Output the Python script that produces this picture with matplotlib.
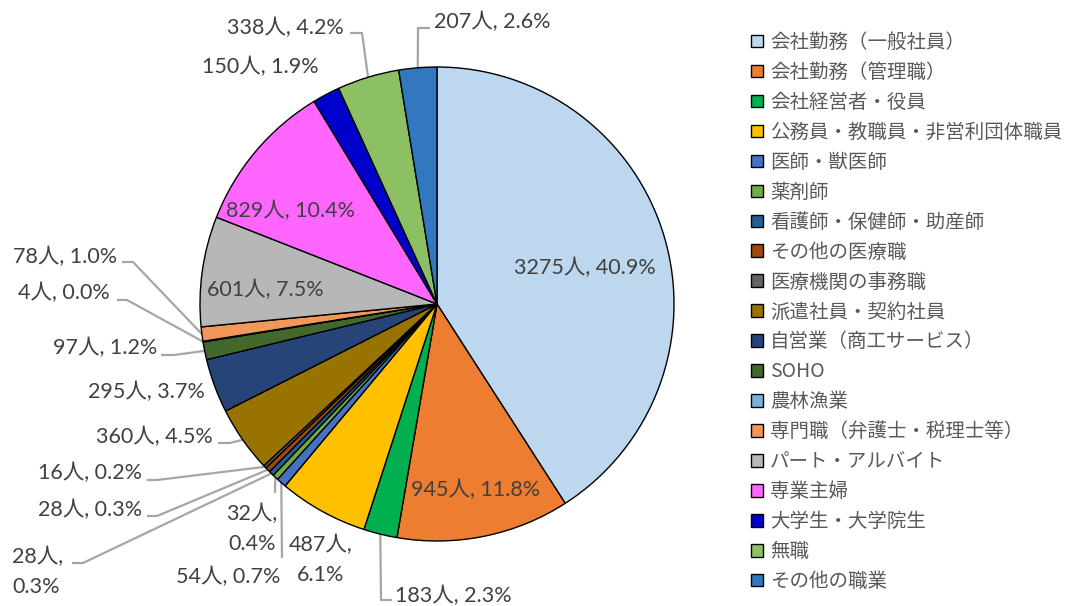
import matplotlib
matplotlib.use("Agg")
import matplotlib.pyplot as plt
import numpy as np

categories = ["会社勤務（一般社員）", "会社勤務（管理職）", "会社経営者・役員",
              "公務員・教職員・非営利団体職員", "医師・獣医師", "薬剤師",
              "看護師・保健師・助産師", "その他の医療職", "医療機関の事務職",
              "派遣社員・契約社員", "自営業（商工サービス）", "SOHO", "農林漁業",
              "専門職（弁護士・税理士等）", "パート・アルバイト", "専業主婦",
              "大学生・大学院生", "無職", "その他の職業"]
counts = [3275, 945, 183, 487, 54, 32, 28, 28, 16, 360, 295, 97, 4, 78, 601, 829, 150, 338, 207]
percents = [40.9, 11.8, 2.3, 6.1, 0.7, 0.4, 0.3, 0.3, 0.2, 4.5, 3.7, 1.2, 0.0, 1.0, 7.5, 10.4, 1.9, 4.2, 2.6]
colors = ["#BDD7EE", "#ED7D31", "#00B050", "#FFC000", "#4472C4", "#70AD47",
          "#255E91", "#9E480E", "#636363", "#997300", "#264478", "#43682B",
          "#7CAFDD", "#F1975A", "#B7B7B7", "#FF66FF", "#0000CC", "#8DC063", "#3178BF"]

W, H = 1073, 606
fig = plt.figure(figsize=(W / 100, H / 100), dpi=100)
ax = fig.add_axes([0, 0, 1, 1])

CX, CY, R = 437, H - 304, 237
wedges, _ = ax.pie(counts, colors=colors, startangle=90, counterclock=False,
                   center=(CX, CY), radius=R,
                   wedgeprops=dict(edgecolor="black", linewidth=1.0))
ax.set_xlim(0, W)
ax.set_ylim(0, H)
ax.set_aspect("equal")
ax.axis("off")

# label layout: (x_px, y_px, ha, lines, leader elbows in px)
layout = [
    (585, 268, "center", 1, None),
    (476, 490, "center", 1, None),
    (395, 596, "left", 1, [(381, 600), (392, 600)]),
    (321, 560, "center", 2, None),
    (228, 577, "center", 1, [(282, 558)]),
    (252, 529, "center", 2, [(275, 493)]),
    (12, 572, "left", 2, [(83, 563), (72, 563)]),
    (142, 510, "right", 1, [(157, 516), (147, 516)]),
    (142, 473, "right", 1, [(157, 480), (147, 480)]),
    (213, 437, "right", 1, [(230, 443), (218, 443)]),
    (205, 392, "right", 1, None),
    (157, 348, "right", 1, [(174, 355), (161, 355)]),
    (110, 293, "right", 1, [(127, 300), (117, 300)]),
    (117, 257, "right", 1, [(133, 262), (122, 262)]),
    (265, 290, "center", 1, None),
    (291, 211, "center", 1, None),
    (260, 67, "center", 1, None),
    (285, 28, "center", 1, [(362, 33), (350, 33)]),
    (492, 22, "center", 1, [(418, 28), (430, 28)]),
]

lab_font = ["Lato", "Noto Sans CJK JP"]
total = sum(counts)
cum = np.cumsum([0] + counts)
for i, (c, p) in enumerate(zip(counts, percents)):
    x, y, ha, nl, elbows = layout[i]
    sep = ",\n" if nl == 2 else ", "
    txt = f"{c}人{sep}{p:.1f}%"
    ax.text(x, H - y, txt, ha=ha, va="center", fontsize=15.5, color="#404040",
            family=lab_font, linespacing=1.66,
            multialignment="center" if ha == "center" else ha)
    if elbows:
        mid = (cum[i] + cum[i + 1]) / 2 / total
        th = np.deg2rad(90 - 360 * mid)
        sx, sy = CX + R * np.cos(th), CY + R * np.sin(th)
        xs = [sx] + [e[0] for e in elbows]
        ys = [sy] + [H - e[1] for e in elbows]
        ax.plot(xs, ys, color="#A6A6A6", lw=1.6, solid_capstyle="butt", zorder=0.5)

leg = ax.legend(wedges, categories, loc="upper left",
                bbox_to_anchor=(751 / W, 1 - 32 / H), frameon=False,
                prop={"family": ["Noto Sans CJK JP"], "size": 14},
                handlelength=0.62, handleheight=0.62, handletextpad=0.36,
                labelspacing=0.46, borderpad=0, borderaxespad=0)
for t in leg.get_texts():
    t.set_color("#595959")

fig.savefig("out.png", dpi=100)
